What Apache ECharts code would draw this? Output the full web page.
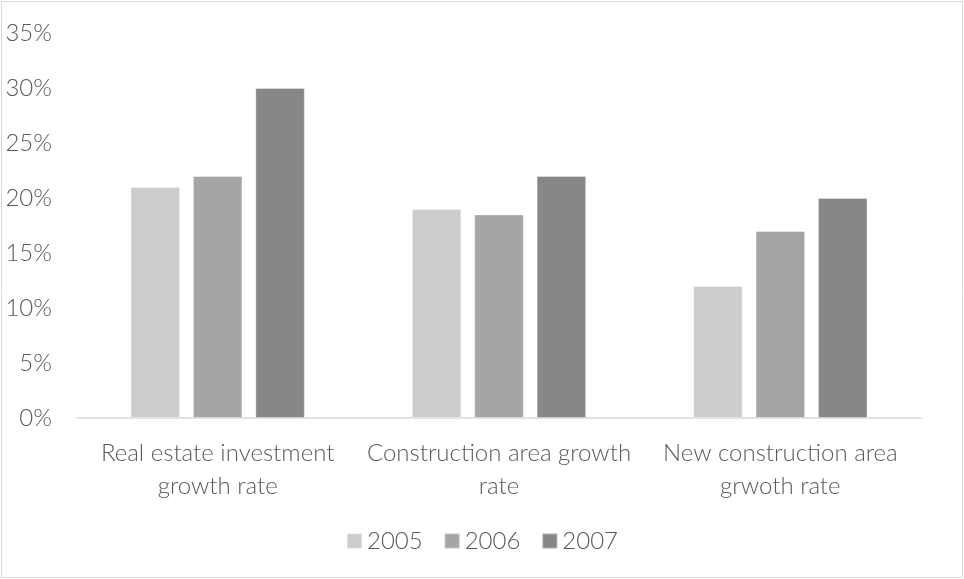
<!DOCTYPE html>
<html>
<head>
<meta charset="utf-8">
<script src="https://cdn.jsdelivr.net/npm/echarts@6/dist/echarts.min.js"></script>
<style>
  html, body { margin: 0; padding: 0; background: #fff; }
  #chart { width: 964px; height: 579px; }
</style>
</head>
<body>
<div id="chart"></div>
<script>
// Growth indicators by year (percent)
const categories = [
  'Real estate investment\ngrowth rate',
  'Construction area growth\nrate',
  'New construction area\ngrwoth rate'
];
const years = ['2005', '2006', '2007'];
const values2005 = [21, 19, 12];
const values2006 = [22, 18.5, 17];
const values2007 = [30, 22, 20];
const yTicks = [0, 5, 10, 15, 20, 25, 30, 35];

const colors = ['#CCCCCC', '#A5A5A5', '#878787'];
const textColor = '#595959';
const fontFamily = 'Lato';
const fontWeight = 300;

const chart = echarts.init(document.getElementById('chart'));
const seriesData = [values2005, values2006, values2007];

chart.setOption({
  animation: false,
  graphic: [{
    type: 'rect',
    shape: { x: 1.5, y: 1.5, width: 961, height: 576 },
    style: { fill: 'none', stroke: '#D9D9D9', lineWidth: 1 }
  }],
  grid: { left: 77, right: 43, top: 33, bottom: 161 },
  legend: {
    data: years,
    bottom: 21,
    left: 'center',
    itemWidth: 15,
    itemHeight: 15,
    itemGap: 21,
    icon: 'rect',
    textStyle: { color: textColor, fontSize: 24, fontFamily: fontFamily, fontWeight: fontWeight }
  },
  xAxis: {
    type: 'category',
    data: categories,
    axisLine: { lineStyle: { color: '#D9D9D9', width: 1.5 } },
    axisTick: { show: false },
    axisLabel: {
      color: textColor,
      fontSize: 24,
      fontFamily: fontFamily,
      fontWeight: fontWeight,
      lineHeight: 33,
      margin: 19,
      interval: 0
    }
  },
  yAxis: {
    type: 'value',
    min: yTicks[0],
    max: yTicks[yTicks.length - 1],
    interval: 5,
    splitLine: { show: false },
    axisLine: { show: false },
    axisTick: { show: false },
    axisLabel: {
      color: textColor,
      fontSize: 24,
      fontFamily: fontFamily,
      fontWeight: fontWeight,
      margin: 25,
      formatter: v => v + '%'
    }
  },
  series: years.map((y, i) => ({
    name: y,
    type: 'bar',
    data: seriesData[i],
    barWidth: '17.6%',
    barGap: '26%',
    itemStyle: { color: colors[i], borderColor: 'rgba(255,255,255,0.35)', borderWidth: 1 }
  }))
});
</script>
</body>
</html>
